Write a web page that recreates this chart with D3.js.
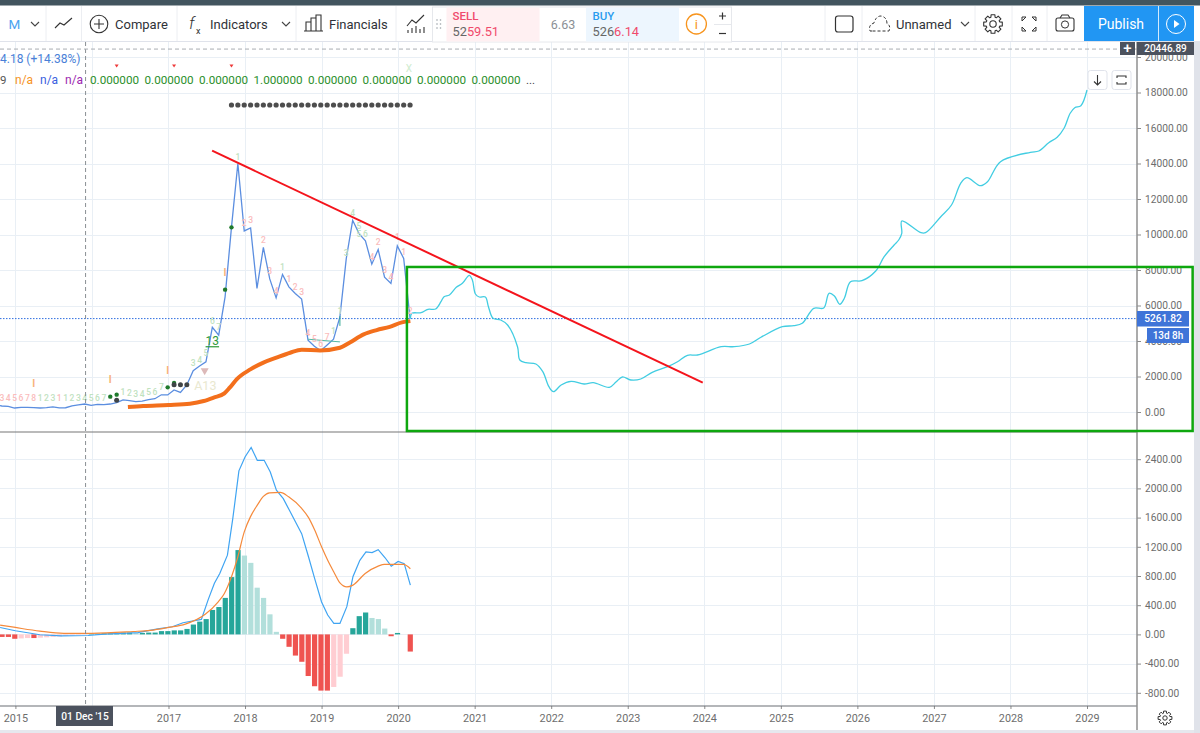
<!DOCTYPE html>
<html><head><meta charset="utf-8">
<script src="https://cdn.jsdelivr.net/npm/d3@7"></script>
<style>
html,body{margin:0;padding:0;background:#fff;overflow:hidden}
svg{display:block}
text{font-family:Roboto,"Liberation Sans",sans-serif}
</style></head><body>
<svg id="c" width="1200" height="733"></svg>
<script>
const yearTicks=[2015,2016,2017,2018,2019,2020,2021,2022,2023,2024,2025,2026,2027,2028,2029];
const yearLabels=[2015,2017,2018,2019,2020,2021,2022,2023,2024,2025,2026,2027,2028,2029];
const priceTicks=[0,2000,4000,6000,8000,10000,12000,14000,16000,18000,20000];
const macdTicks=[-800,-400,0,400,800,1200,1600,2000,2400];
const firstMonth=-3;
const closes=[394,338,320,225,263,263,244,225,250,285,230,240,350,400,450,370,430,416,450,530,680,640,580,610,700,750,970,960,1240,1100,1520,2330,2590,2830,4770,4330,6490,10400,14000,10200,10370,6960,9270,7500,6430,7750,7050,6680,6360,4050,3700,3450,3770,4100,5360,8650,10800,10050,9640,8330,9150,7600,7240,9360,8650,5261.82];
const lastPrice=5261.82, crossPrice=20446.89;
const projYears=[2020.16,2020.18,2020.30,2020.39,2020.49,2020.56,2020.60,2020.67,2020.76,2020.84,2020.93,2020.97,2021.01,2021.06,2021.14,2021.18,2021.24,2021.34,2021.43,2021.56,2021.59,2021.67,2021.80,2021.89,2021.97,2022.03,2022.13,2022.26,2022.43,2022.55,2022.76,2022.85,2022.93,2023.04,2023.17,2023.32,2023.52,2023.65,2023.78,2023.91,2024.22,2024.39,2024.59,2024.74,2025.02,2025.17,2025.28,2025.43,2025.56,2025.63,2025.70,2025.77,2025.83,2025.91,2026.06,2026.24,2026.35,2026.48,2026.54,2026.58,2026.58,2026.83,2026.89,2027.09,2027.23,2027.35,2027.43,2027.61,2027.70,2027.87,2028.26,2028.37,2028.50,2028.61,2028.70,2028.78,2028.84,2028.92,2029.00];
const projValues=[5261,5560,5595,5786,5803,6214,6496,6592,7026,7251,7702,7437,6648,6479,6479,5933,5279,5183,4902,3679,2930,2778,2704,2271,1425,1144,1521,1730,1578,1651,1392,1707,1972,1803,1859,2237,2552,2834,3195,3211,3679,3679,3831,4209,4806,4862,4997,5842,5859,6688,6535,6068,6406,7341,7397,7944,8750,9409,9690,10068,10761,10102,10102,11003,11662,12885,13200,12750,12975,14102,14632,14705,15172,15477,15984,16829,17144,17257,18141];
const maYears=[2016.47,2016.67,2017.00,2017.28,2017.46,2017.59,2017.73,2017.80,2017.89,2018.07,2018.24,2018.41,2018.59,2018.74,2018.98,2019.24,2019.37,2019.55,2019.72,2019.89,2020.05,2020.16];
const maValues=[280,340,395,470,620,810,1050,1370,1840,2400,2780,3060,3340,3510,3470,3620,3920,4370,4615,4800,5050,5120];
const trendYears=[2017.57,2023.98];
const trendValues=[14722,1650];
const boxYears=[2020.115,2030.38];
const boxValues=[8170,-1070];
const histFirstMonth=-2;
const histValues=[-35,-35,-60,-55,-50,-50,-45,-40,-35,-30,-20,-15,-10,-5,5,10,15,15,20,25,25,20,20,25,25,45,45,55,55,75,135,175,210,335,375,500,785,1155,1080,980,640,500,275,35,-60,-170,-290,-375,-570,-710,-770,-770,-720,-580,-265,85,250,300,225,210,80,-25,20,0,-235];
const macdYears=[2014.80,2015,2015.32,2015.6,2015.95,2016.16,2016.6,2016.86,2017.05,2017.19,2017.43,2017.52,2017.6,2017.67,2017.77,2017.84,2017.92,2018,2018.08,2018.16,2018.25,2018.33,2018.41,2018.5,2018.58,2018.66,2018.74,2018.83,2018.91,2019,2019.08,2019.16,2019.24,2019.33,2019.41,2019.5,2019.58,2019.66,2019.74,2019.83,2019.91,2020,2020.08,2020.16];
const macdValues=[95,50,-5,-20,-15,5,25,75,105,160,205,480,700,835,1085,1585,2240,2430,2560,2385,2385,2225,1975,1860,1700,1540,1380,1060,765,445,265,150,150,380,790,1015,1130,1120,1160,1050,935,1000,970,675];
const signalYears=[2014.80,2015,2015.32,2015.63,2016,2016.54,2016.76,2017,2017.22,2017.48,2017.65,2017.73,2017.83,2017.9,2017.99,2018.07,2018.16,2018.24,2018.32,2018.46,2018.57,2018.74,2018.83,2018.91,2019,2019.08,2019.16,2019.24,2019.33,2019.41,2019.57,2019.74,2019.82,2019.99,2020.07,2020.16];
const signalValues=[128,95,45,15,15,40,55,95,140,275,445,560,810,1040,1405,1610,1770,1890,1940,1945,1885,1725,1600,1430,1200,1015,855,705,650,675,835,935,960,960,960,900];
const tdMonths=[-2,-1,0,1,2,3,4,5,6,7,8,9,10,11,12,13,14,17,18,19,20,21,22,23,28,29,30,31,32,35,36,37,39,40,41,42,43,44,45,46,47,48,49,50,51,52,53,54,54,55,56,57,58,59,60,61,62];
const tdPrices=[770,770,770,770,770,770,770,770,770,770,770,770,770,770,770,770,770,1108,1052,1014,1014,1108,1146,1390,2742,2930,3305,5127,4770,14385,10630,10800,9690,7944,6836,8150,7493,7060,6742,4432,4113,3831,4244,4563,5690,8977,11193,10498,10010,10047,8751,9596,8000,7625,9841,8996,5709];
const tdLabels=["3","4","5","6","7","8","1","2","3","1","1","2","3","4","5","6","7","1","2","3","4","5","6","7","3","4","5","6","7","1","2","3","2","3","4","1","1","2","3","4","5","6","7","1","1","3","4","5","5","6","4","2","3","4","1","1","2"];
const tdBuy=[0,0,0,0,0,0,1,1,1,0,1,1,1,1,1,1,1,1,1,1,1,1,1,1,1,1,1,1,1,1,0,0,0,0,0,1,0,0,0,0,0,0,0,1,1,1,1,1,1,1,0,0,0,0,0,0,0];
const setupMonths=[3,15,24,33];
const setupPrices=[1615,1840,2366,7869];
const greenDotMonths=[15,16,24,25,33,34];
const greenDotPrices=[864,977,1390,1634,6892,10404];
const darkDotMonths=[16,25,26,27];
const darkDotPrices=[657,1540,1540,1540];
const rowDotMonths=d3.range(34,63);
const flagMonths=[16,25,34];
const tealMonths=[46,51];
const tealValues=[4100,3950];
const legendValues=["0.000000","0.000000","0.000000","1.000000","0.000000","0.000000","0.000000","0.000000"];

const W=1137;
const x=d3.scaleLinear().domain([2015,2029]).range([15.4,1087]);
const y=d3.scaleLinear().domain([0,20000]).range([412,57]);
const yM=d3.scaleLinear().domain([0,2400]).range([634.4,459.2]);
const mx=m=>x(2015+m/12)-0.8;
const svg=d3.select("#c");
const defs=svg.append("defs");
defs.append("clipPath").attr("id","main").append("rect").attr("x",0).attr("y",42).attr("width",W).attr("height",390);
defs.append("clipPath").attr("id","sub").append("rect").attr("x",0).attr("y",433).attr("width",W).attr("height",273);
svg.append("rect").attr("width",1200).attr("height",733).attr("fill","#fff");

const grid=svg.append("g").attr("stroke","#e9eff5").attr("stroke-width",1);
grid.selectAll(".v").data(yearTicks).join("line").attr("class","v").attr("x1",d=>Math.round(x(d))+.5).attr("x2",d=>Math.round(x(d))+.5).attr("y1",42).attr("y2",706);
grid.selectAll(".h").data(priceTicks).join("line").attr("class","h").attr("x1",0).attr("x2",W).attr("y1",d=>Math.round(y(d))+.5).attr("y2",d=>Math.round(y(d))+.5);
grid.selectAll(".m").data(macdTicks).join("line").attr("class","m").attr("x1",0).attr("x2",W).attr("y1",d=>Math.round(yM(d))+.5).attr("y2",d=>Math.round(yM(d))+.5);

const pane=svg.append("g").attr("clip-path","url(#main)");
const line=(xs,ys,sx,sy,cur)=>d3.line().x((d,i)=>sx(xs[i])).y((d,i)=>sy(ys[i])).curve(cur||d3.curveLinear)(ys);
const closeMonths=closes.map((d,i)=>firstMonth+i);
pane.append("path").attr("fill","none").attr("stroke","#5b8ee0").attr("stroke-width",1.3)
 .attr("d",d3.line().x((d,i)=>mx(closeMonths[i])).y(d=>y(d))(closes));
pane.append("line").attr("x1",0).attr("x2",W).attr("y1",y(lastPrice)).attr("y2",y(lastPrice)).attr("stroke","#2f6fe0").attr("stroke-width",1).attr("stroke-dasharray","1.5 1.5");
pane.append("path").attr("fill","none").attr("stroke","#f36f1c").attr("stroke-width",4).attr("d",line(maYears,maValues,x,y,d3.curveMonotoneX));
pane.append("path").attr("fill","none").attr("stroke","#55b8a4").attr("stroke-width",1).attr("d",line(tealMonths,tealValues,mx,y));
pane.append("line").attr("x1",mx(51)).attr("x2",mx(51)).attr("y1",y(5400)).attr("y2",y(4850)).attr("stroke","#2fa890").attr("stroke-width",1);
pane.append("path").attr("fill","none").attr("stroke","#42cde2").attr("stroke-width",1.3).attr("d",line(projYears,projValues,x,y,d3.curveCatmullRom.alpha(.5)));
pane.selectAll(".td").data(tdLabels).join("text").attr("class","td").attr("x",(d,i)=>mx(tdMonths[i])).attr("y",(d,i)=>y(tdPrices[i])+3)
 .attr("text-anchor","middle").attr("font-size",8.5).attr("font-weight",500).attr("fill",(d,i)=>tdBuy[i]?"#bfe2bf":"#fabcbc").text(d=>d);
pane.selectAll(".su").data(setupMonths).join("text").attr("class","su").attr("x",d=>mx(d)).attr("y",(d,i)=>y(setupPrices[i])+4)
 .attr("text-anchor","middle").attr("font-size",10).attr("font-weight",700).attr("fill","#f7b27a").text("I");
pane.selectAll(".gd").data(greenDotMonths).join("circle").attr("class","gd").attr("cx",d=>mx(d)).attr("cy",(d,i)=>y(greenDotPrices[i])).attr("r",2.2).attr("fill","#1f7a2c");
pane.selectAll(".dd").data(darkDotMonths).join("circle").attr("class","dd").attr("cx",d=>mx(d)).attr("cy",(d,i)=>y(darkDotPrices[i])).attr("r",2.5).attr("fill","#3f4447");
pane.selectAll(".rd").data(rowDotMonths).join("circle").attr("class","rd").attr("cx",d=>mx(d)).attr("cy",105).attr("r",2.6).attr("fill","#4d4d4d");
pane.append("text").attr("x",mx(31)).attr("y",y(4019)+4.5).attr("text-anchor","middle").attr("font-size",12).attr("fill","#2e9a38").attr("text-decoration","underline").text("13");
pane.append("text").attr("x",mx(29.9)).attr("y",y(1521)+5).attr("text-anchor","middle").attr("font-size",12.5).attr("fill","#e9e8cf").text("A13");
pane.append("path").attr("transform",`translate(${mx(29.8)},${y(2272)})`).attr("d","M-4,-3.5L4,-3.5L0,3.5Z").attr("fill","#dcb9b9");
pane.selectAll(".fl").data(flagMonths).join("path").attr("class","fl").attr("transform",d=>`translate(${mx(d)},66)`).attr("d","M-2,-1.5L2,-1.5L0,1.5Z").attr("fill","#ee3a3a");
pane.append("text").attr("x",409).attr("y",72).attr("text-anchor","middle").attr("font-size",10).attr("fill","#cfeccf").text("X");
pane.append("path").attr("fill","none").attr("stroke","#f4141c").attr("stroke-width",2).attr("d",line(trendYears,trendValues,x,y));

svg.append("text").attr("x",0).attr("y",63).attr("font-size",12).attr("fill","#4a7fd8").text("4.18 (+14.38%)");
svg.append("text").attr("x",0).attr("y",84).attr("font-size",11.5).attr("fill","#555").text("9");
[["n/a","#f7941d",15],["n/a","#3a5fe0",40],["n/a","#9c27b0",65]].forEach(a=>svg.append("text").attr("x",a[2]).attr("y",84).attr("font-size",12).attr("fill",a[1]).text(a[0]));
svg.selectAll(".lv").data(legendValues).join("text").attr("class","lv").attr("x",(d,i)=>90+i*54.5).attr("y",84).attr("font-size",11.7).attr("fill","#2c8f2c").text(d=>d);
svg.append("text").attr("x",526).attr("y",84).attr("font-size",11.5).attr("fill","#444").text("...");

const sub=svg.append("g").attr("clip-path","url(#sub)");
const histColor=(v,i)=>{const p=i?histValues[i-1]:v;return v>=0?(v>=p?"#26a69a":"#b2dfdb"):(v<=p?"#ef5350":"#ffcdd2");};
sub.selectAll(".b").data(histValues).join("rect").attr("class","b")
 .attr("x",(d,i)=>mx(histFirstMonth+i)-2.4).attr("width",5.2)
 .attr("y",d=>Math.min(yM(d),yM(0))).attr("height",d=>Math.abs(yM(d)-yM(0)))
 .attr("fill",(d,i)=>histColor(d,i));
sub.append("path").attr("fill","none").attr("stroke","#3fa4f2").attr("stroke-width",1.2).attr("d",line(macdYears,macdValues,x,yM));
sub.append("path").attr("fill","none").attr("stroke","#f58a3c").attr("stroke-width",1.2).attr("d",line(signalYears,signalValues,x,yM,d3.curveMonotoneX));

svg.append("line").attr("x1",0).attr("x2",1137).attr("y1",432).attr("y2",432).attr("stroke","#777").attr("stroke-width",1.2);
svg.append("line").attr("x1",mx(11)+.8).attr("x2",mx(11)+.8).attr("y1",42).attr("y2",706).attr("stroke","#8a8f94").attr("stroke-dasharray","4 3");
svg.append("line").attr("x1",0).attr("x2",1137).attr("y1",y(crossPrice)).attr("y2",y(crossPrice)).attr("stroke","#a9adb1").attr("stroke-dasharray","4 3");

const style=(g,fs)=>{g.select(".domain").remove();g.selectAll("text").attr("fill","#6d6d6d").attr("font-size",fs).attr("font-family","Roboto,sans-serif");g.selectAll("line").attr("stroke","#8b8b8b");};
const fmt=d=>d.toFixed(2);
svg.append("g").attr("transform","translate(1137,0)").call(d3.axisRight(y).tickValues(priceTicks).tickFormat(fmt).tickSize(4).tickPadding(4)).call(style,10.2);
svg.append("g").attr("transform","translate(1137,0)").call(d3.axisRight(yM).tickValues(macdTicks).tickFormat(fmt).tickSize(4).tickPadding(4)).call(style,10.2);
svg.append("g").attr("transform","translate(0,706)").call(d3.axisBottom(x).tickValues(yearLabels).tickFormat(d3.format("d")).tickSize(3).tickPadding(5)).call(style,10.8);
svg.append("line").attr("x1",0).attr("x2",1137).attr("y1",706).attr("y2",706).attr("stroke","#6b6f75").attr("stroke-width",1.2);
svg.append("line").attr("x1",1137).attr("x2",1137).attr("y1",42).attr("y2",731).attr("stroke","#8f8f8f").attr("stroke-width",1.5);
svg.append("rect").attr("x",0).attr("y",730).attr("width",1200).attr("height",3).attr("fill","#e6e8ee");
svg.append("rect").attr("x",1194).attr("y",0).attr("width",6).attr("height",733).attr("fill","#e0e3ea");

const tag=(rx,ry,w,h,fill,tx,ty,t,fs)=>{svg.append("rect").attr("x",rx).attr("y",ry).attr("width",w).attr("height",h).attr("fill",fill);
 svg.append("text").attr("x",tx).attr("y",ty).attr("text-anchor","middle").attr("font-size",fs).attr("fill","#fff").attr("font-weight",500).text(t);};
tag(56,706,57,20,"#4c525e",85,720,"01 Dec '15",10.2);
tag(1137,42,57,13,"#4c525e",1165.5,52.2,crossPrice.toFixed(2),10);
tag(1120,42,15,13,"#4c525e",1127.5,53,"+",15);
tag(1137,311,52,15.5,"#3f74d8",1163,322.3,lastPrice.toFixed(2),10.2);
tag(1147,328,42,15,"#3f74d8",1168,339,"13d 8h",10);

svg.append("rect").attr("x",x(boxYears[0])).attr("y",y(boxValues[0])).attr("width",x(boxYears[1])-x(boxYears[0])).attr("height",y(boxValues[1])-y(boxValues[0]))
 .attr("fill","none").attr("stroke","#0ea70e").attr("stroke-width",2.5);

const tb=svg.append("g");
tb.append("rect").attr("width",1200).attr("height",41).attr("fill","#fff");
tb.append("rect").attr("width",1200).attr("height",5.5).attr("fill","#42555f");
tb.append("line").attr("x1",0).attr("x2",1200).attr("y1",41.5).attr("y2",41.5).attr("stroke","#e0e3eb");
[46,81.5,177,296,396,825,862,975,1012,1047].forEach(s=>tb.append("line").attr("x1",s).attr("x2",s).attr("y1",6).attr("y2",41).attr("stroke","#eceef2"));
const txt=(xx,yy,t,fs,fill,anchor,w)=>tb.append("text").attr("x",xx).attr("y",yy).attr("font-size",fs).attr("fill",fill||"#2f3238").attr("text-anchor",anchor||"start").attr("font-weight",w||400).text(t);
const ico=(d,sw,col)=>tb.append("path").attr("d",d).attr("fill","none").attr("stroke",col||"#333").attr("stroke-width",sw||1.1);
txt(14.5,29,"M",13.5,"#4aa3f0","middle");
const chev=cx=>ico(`M${cx-4},22L${cx},26L${cx+4},22`,1.1,"#444");
chev(35);chev(286);chev(965);
ico("M55,28L60,23L64,25L72,18",1.1);
txt(189,29,"f",17,"#333").attr("font-style","italic").attr("font-weight",300);
txt(196,34,"x",9,"#333");
tb.append("circle").attr("cx",99).attr("cy",24).attr("r",8.8).attr("fill","none").attr("stroke","#333").attr("stroke-width",1.1);
ico("M94,24H104M99,19V29");
txt(115,29,"Compare",13);
txt(210,29,"Indicators",13);
ico("M306,31V22H311V31M311,31V18H316V31M316,31V15H321V31M304,31H323");
txt(329,29,"Financials",13);
ico("M407,26L412,20L416,23L424,15M408,33V30M412,33V28M416,33V26M420,33V29M424,33V27");
tb.append("rect").attr("x",432.5).attr("y",7).attr("width",299).attr("height",35).attr("fill","#fff").attr("stroke","#e6e8ec");
tb.append("rect").attr("x",446.5).attr("y",7.5).attr("width",93).attr("height",34).attr("fill","#fff0f2");
tb.append("rect").attr("x",586).attr("y",7.5).attr("width",93).attr("height",34).attr("fill","#edf6fe");
tb.selectAll(".gr").data(d3.range(6)).join("circle").attr("class","gr").attr("cx",d=>437+(d%2)*3.5).attr("cy",d=>20+Math.floor(d/2)*4).attr("r",.8).attr("fill","#9aa0a6");
txt(452.5,20,"SELL",11.5,"#f04a6c","start",500);
const s=txt(452.5,35.5,"52",12.8,"#666");s.append("tspan").attr("fill","#f04a6c").text("59.51");
txt(563,29,"6.63",12.5,"#8b8f95","middle");
txt(592.5,20,"BUY",11.5,"#2a9cef","start",500);
const b=txt(592.5,35.5,"526",12.8,"#666");b.append("tspan").attr("fill","#f04a6c").text("6.14");
tb.append("circle").attr("cx",696.4).attr("cy",24).attr("r",10).attr("fill","none").attr("stroke","#f7941d").attr("stroke-width",1.3);
txt(696.4,29,"i",13,"#f7941d","middle");
tb.append("line").attr("x1",714).attr("x2",731).attr("y1",24.5).attr("y2",24.5).attr("stroke","#e6e8ec");
ico("M719,16H726M722.5,12.5V19.5",1.2);
ico("M719,33.5H726",1.2);
tb.append("rect").attr("x",835.5).attr("y",16).attr("width",17.5).attr("height",16).attr("rx",2.5).attr("fill","none").attr("stroke","#333").attr("stroke-width",1.2);
ico("M872,31H870Q868,25 874,23Q876,16 881,16Q887,17 887,24Q891,25 889,31H872",1).attr("stroke-dasharray","3 2");
txt(896,29,"Unnamed",13);
const gear=(cx,cy,ro,ri,rh)=>{
 const n=8,pts=[];
 for(let i=0;i<n;i++){const a=i*2*Math.PI/n,w=.2,g=.3;
  [[ri,a-g],[ro,a-w],[ro,a+w],[ri,a+g]].forEach(p=>pts.push([cx+p[0]*Math.cos(p[1]),cy+p[0]*Math.sin(p[1])]));}
 return {d:"M"+pts.map(p=>p.map(v=>v.toFixed(1)).join(",")).join("L")+"Z",cx,cy,rh};};
const drawGear=(parent,g,sw)=>{parent.append("path").attr("d",g.d).attr("fill","none").attr("stroke","#333").attr("stroke-width",sw).attr("stroke-linejoin","round");
 parent.append("circle").attr("cx",g.cx).attr("cy",g.cy).attr("r",g.rh).attr("fill","none").attr("stroke","#333").attr("stroke-width",sw);};
drawGear(tb,gear(993,24,9.5,7,3.2),1.1);
ico("M1022,17V21M1022,17H1026L1022,21M1036,17V21M1036,17H1032L1036,21M1022,31V27M1022,31H1026L1022,27M1036,31V27M1036,31H1032L1036,27",1);
tb.append("rect").attr("x",1056).attr("y",18).attr("width",18).attr("height",13).attr("rx",2).attr("fill","none").attr("stroke","#333").attr("stroke-width",1.1);
ico("M1060,18L1062,15H1068L1070,18");
tb.append("circle").attr("cx",1065).attr("cy",24.5).attr("r",3.6).attr("fill","none").attr("stroke","#333");
tb.append("rect").attr("x",1084).attr("y",6).attr("width",110).attr("height",35).attr("fill","#2196f3");
tb.append("line").attr("x1",1158.5).attr("x2",1158.5).attr("y1",6).attr("y2",41).attr("stroke","#fff").attr("stroke-width",.8);
txt(1121,29,"Publish",14,"#fff","middle");
tb.append("circle").attr("cx",1176).attr("cy",24).attr("r",9.5).attr("fill","none").attr("stroke","#fff");
tb.append("path").attr("d","M1174,20L1179.5,24L1174,28Z").attr("fill","#fff");

const o=svg.append("g");
[[1088,"M1097.5,75V85M1094,81.5L1097.5,85L1101,81.5"],[1112,"M1117,78V76H1126V78M1117,82V84H1126V82"]].forEach(a=>{
 o.append("rect").attr("x",a[0]).attr("y",70.5).attr("width",19).attr("height",19).attr("rx",2.5).attr("fill","#fff").attr("stroke","#e0e3eb");
 o.append("path").attr("d",a[1]).attr("fill","none").attr("stroke","#333").attr("stroke-width",1.1);});
drawGear(o,gear(1165,718,7,5,2.2),1);
</script></body></html>
